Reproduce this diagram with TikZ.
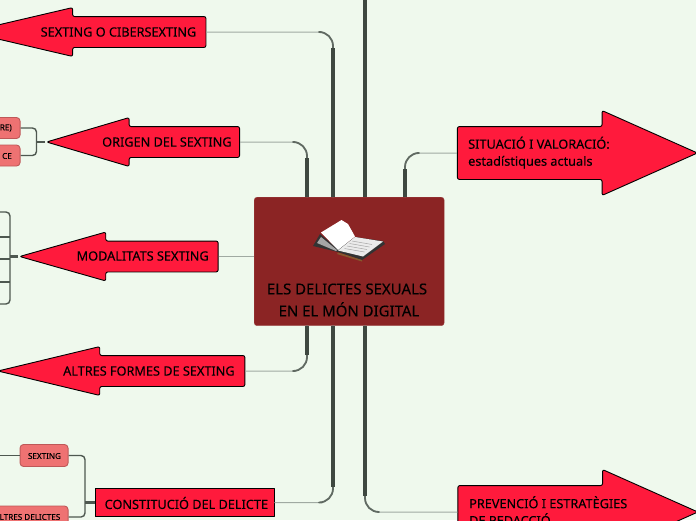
\documentclass[tikz,border=0pt]{standalone}
\usepackage{fontspec}
\setmainfont{Noto Sans}[FakeBold=0.12]
\usetikzlibrary{calc,shapes.arrows}
\definecolor{paper}{RGB}{239,249,237}
\definecolor{rootred}{RGB}{139,36,36}
\definecolor{arrowred}{RGB}{255,26,60}
\definecolor{childpink}{RGB}{238,114,114}
\definecolor{childedge}{RGB}{190,88,88}
\definecolor{limbgrey}{RGB}{78,88,80}
\definecolor{trunkgrey}{RGB}{62,72,64}
\definecolor{bendgrey}{RGB}{96,106,98}
\definecolor{twiggrey}{RGB}{160,170,162}
% thin stroke, then darker from the bend on, then the heavy run into the root box
\newcommand{\branch}[3]{
  \draw[twig] (#1) -| (#2);
  \draw[bendline,shorten <=#3pt-12pt] (#1) -| (#2);
  \draw[trunk] ($(#2 |- #1)!16pt!(#2)$) -- (#2);
}
\begin{document}
\begin{tikzpicture}[
  x=1pt,
  y=-1pt,
  line join=round,
  twig/.style={draw=twiggrey,line width=1pt,rounded corners=14pt},
  bendline/.style={draw=bendgrey,line width=1.8pt,rounded corners=14pt},
  trunk/.style={draw=trunkgrey,line width=3.6pt},
  limb/.style={draw=limbgrey,line width=1.4pt,rounded corners=4pt},
  stem/.style={draw=limbgrey,line width=2.2pt},
  bigarrow/.style={shape=single arrow,draw=black,fill=arrowred,line width=0.9pt,rounded corners=2pt,
    inner sep=0pt,anchor=tip,single arrow head indent=0pt},
  leftshaft/.style={bigarrow,shape border rotate=180,inner ysep=15pt,single arrow head extend=9pt},
  rightshaft/.style={bigarrow,shape border rotate=0,inner ysep=26pt,single arrow head extend=16pt,
    minimum height=240pt,single arrow tip angle=48},
  mainlabel/.style={inner sep=0pt,font=\fontsize{12.7}{17}\selectfont,align=left},
  childbox/.style={draw=childedge,fill=childpink,line width=0.9pt,rounded corners=3.5pt,inner sep=0pt},
  childlabel/.style={inner sep=0pt,font=\fontsize{8.1}{9}\selectfont}
]
  \useasboundingbox (0,0) rectangle (696,520);
  \clip (0,0) rectangle (696,520);
  \fill[paper] (0,0) rectangle (696,520);

  % Arrows on the left.
  \node[leftshaft,minimum height=238pt,single arrow tip angle=26.3] (cibersexting) at (-34,32) {};
  \node[leftshaft,minimum height=193pt,single arrow tip angle=33] (origen) at (45,142) {};
  \node[leftshaft,minimum height=198.5pt,single arrow tip angle=31.7] (modalitats) at (18,256.5) {};
  \node[leftshaft,minimum height=247pt,single arrow tip angle=27] (altres) at (-4,371) {};

  % Arrows on the right, and the plain box.
  \node[rightshaft] (situacio) at (698.5,153) {};
  \node[rightshaft] (prevencio) at (699,512) {};
  \node[draw=black,fill=arrowred,line width=0.9pt,minimum width=178.5pt,minimum height=28pt,inner sep=0pt,anchor=west] (constitucio) at (95,502.5) {};

  % Root box.
  \node[fill=rootred,draw=rootred!85!white,rounded corners=3pt,minimum width=190pt,minimum height=128.5pt,anchor=north west,inner sep=0pt] (root) at (254,197) {};
  \coordinate (topa) at (307,197);
  \coordinate (topb) at (333,197);
  \coordinate (topd) at (405,197);
  \coordinate (bota) at (307,325.5);
  \coordinate (botb) at (333,325.5);
  \coordinate (botc) at (365,325.5);
  \coordinate (upper) at (365,197);
  \coordinate (offtop) at (365,-5);

  % Branches.
  \draw[trunk] (upper) -- (offtop);
  \branch{cibersexting.tail}{topb}{127}
  \branch{origen.tail}{topa}{67}
  \branch{altres.tail}{bota}{62}
  \branch{constitucio.east}{botb}{60}
  \branch{situacio.tail}{topd}{52}
  \branch{prevencio.tail}{botc}{92}
  \draw[twig] (modalitats.tail) -- (root.west |- modalitats.tail);

  % Child boxes.
  \node[childbox,minimum width=50pt,minimum height=21pt,anchor=east] (zero) at (20.5,128) {};
  \node[childbox,minimum width=50pt,minimum height=21pt,anchor=east] (ceone) at (20.5,155.5) {};
  \node[childbox,minimum width=48pt,minimum height=22pt,anchor=east] (sexting) at (68.5,455.5) {};
  \node[childbox,minimum width=80pt,minimum height=22pt,anchor=east] (delictes) at (68.5,517) {};
  \coordinate (forkorigen) at (36.5,142);
  \coordinate (forkmodal) at (10,256.5);
  \coordinate (forkconst) at (85,502.5);
  \coordinate (offsexting) at (-2,455.5);

  % Small connectors.
  \draw[limb] (zero.east) -| (forkorigen) |- (ceone.east);
  \draw[stem] (origen.tip) -- (forkorigen);
  \draw[limb] (sexting.east) -| (forkconst) |- (delictes.east);
  \draw[stem] (constitucio.west) -- (forkconst);
  \draw[limb] (offsexting) -- (sexting.west);
  \draw[stem] (modalitats.tip) -- (forkmodal);
  \coordinate (modtop) at (-2,212);
  \coordinate (modbot) at (-2,304);
  \draw[limb] (modtop) -| (forkmodal) |- (modbot);
  \foreach \y in {237,259,282} {
    \draw[limb] (-2,\y) -- (10,\y);
  }

  % Book.
  \fill[black!80] (313,246) -- (320,234) -- (338,249) -- (355,237) -- (383,241) -- (385,244) -- (362,260) -- (338,252) -- cycle;
  \fill[black!35] (317,243) -- (321,237) -- (337,250) -- (336,251) -- cycle;
  \fill[brown!70!black] (338,252.5) -- (362,260) -- (362,261.5) -- (337,254) -- cycle;
  \fill[white] (321,232.5) -- (341.5,220) -- (348,224) -- (355,236.5) -- (338,250) -- cycle;
  \fill[white!92!black] (338,250.5) -- (355,237) -- (383,241.5) -- (363,256.5) -- cycle;
  \foreach \s in {0,1,2,3} {
    \draw[black!35,line width=0.5pt] (352+\s*-2.5,241+\s*2.5) -- (372+\s*-2.5,244.5+\s*2.5);
  }

  % Labels.
  \node[mainlabel,anchor=west] (lcibersexting) at (40.5,32) {SEXTING O CIBERSEXTING};
  \node[mainlabel,anchor=west] (lorigen) at (102,142) {ORIGEN DEL SEXTING};
  \node[mainlabel,anchor=west] (lmodalitats) at (76.5,256) {MODALITATS SEXTING};
  \node[mainlabel,anchor=west] (laltres) at (63,371) {ALTRES FORMES DE SEXTING};
  \node[mainlabel,anchor=west] (lconstitucio) at (104.5,503) {CONSTITUCIÓ DEL DELICTE};
  \node[mainlabel,anchor=north west] (lsituacio) at (468,136.5) {SITUACIÓ I VALORACIÓ:\\estadístiques actuals};
  \node[mainlabel,anchor=north west] (lprevencio) at (469,496) {PREVENCIÓ I ESTRATÈGIES\\DE REDACCIÓ};
  \node[inner sep=0pt,font=\fontsize{14.95}{22}\selectfont,align=center] (lroot) at (347,300) {ELS DELICTES SEXUALS\\\ EN EL MÓN DIGITAL};
  \node[childlabel,anchor=east] (lzero) at (12,128) {RE)};
  \node[childlabel,anchor=east] (lceone) at (12,156) {CE};
  \node[childlabel] (lsexting) at (44.5,456) {SEXTING};
  \node[childlabel,anchor=east] (ldelictes) at (60.5,517) {ALTRES DELICTES};
\end{tikzpicture}
\end{document}
